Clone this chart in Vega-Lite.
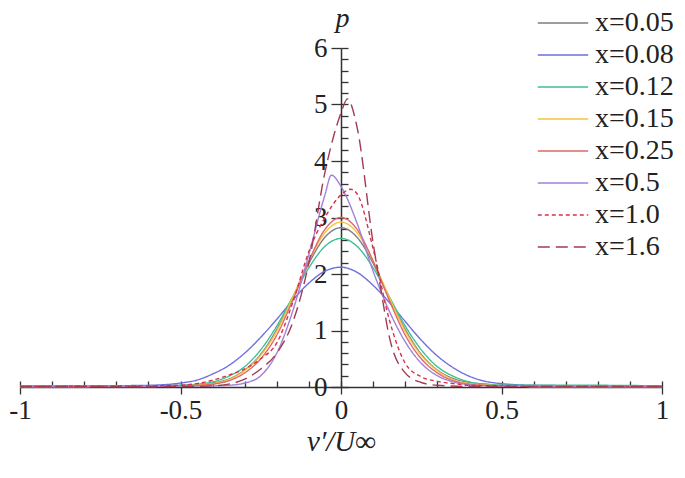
{
  "$schema": "https://vega.github.io/schema/vega-lite/v6.json",
  "width": 642,
  "height": 339,
  "autosize": {"type": "none"},
  "padding": {"left": 20, "top": 48, "right": 23, "bottom": 91},
  "background": "white",
  "config": {"view": {"stroke": null}, "font": "Liberation Serif"},
  "data": {"values": [
    {"s": "x=0.05", "v": [-1,-0.8,-0.6,-0.5,-0.45,-0.4,-0.35,-0.3,-0.25,-0.2,-0.15,-0.1,-0.05,0,0.05,0.1,0.15,0.2,0.25,0.3,0.35,0.4,0.45,0.5,0.6,0.8,1], "p": [0.01,0.02,0.02,0.03,0.04,0.07,0.14,0.3,0.58,1.02,1.59,2.19,2.65,2.82,2.65,2.19,1.59,1.02,0.58,0.3,0.15,0.08,0.05,0.03,0.02,0.01,0.01]},
    {"s": "x=0.08", "v": [-1,-0.8,-0.6,-0.5,-0.45,-0.4,-0.35,-0.3,-0.25,-0.2,-0.15,-0.1,-0.05,0,0.05,0.1,0.15,0.2,0.25,0.3,0.35,0.4,0.45,0.5,0.6,0.8,1], "p": [0.02,0.02,0.03,0.07,0.12,0.23,0.38,0.6,0.88,1.2,1.54,1.84,2.05,2.12,2.03,1.8,1.5,1.16,0.83,0.55,0.34,0.19,0.1,0.06,0.03,0.02,0.01]},
    {"s": "x=0.12", "v": [-1,-0.8,-0.6,-0.5,-0.45,-0.4,-0.35,-0.3,-0.25,-0.2,-0.15,-0.1,-0.05,0,0.05,0.1,0.15,0.2,0.25,0.3,0.35,0.4,0.45,0.5,0.6,0.8,1], "p": [0.01,0.02,0.02,0.03,0.05,0.09,0.19,0.36,0.66,1.08,1.6,2.11,2.49,2.63,2.49,2.11,1.6,1.08,0.66,0.36,0.19,0.09,0.05,0.03,0.03,0.03,0.02]},
    {"s": "x=0.15", "v": [-1,-0.8,-0.6,-0.5,-0.45,-0.4,-0.35,-0.3,-0.25,-0.2,-0.15,-0.1,-0.05,0,0.05,0.1,0.15,0.2,0.25,0.3,0.35,0.4,0.45,0.5,0.6,0.8,1], "p": [0.01,0.01,0.02,0.02,0.035,0.06,0.13,0.29,0.56,0.99,1.59,2.23,2.73,2.92,2.73,2.23,1.59,0.99,0.56,0.29,0.13,0.06,0.035,0.02,0.01,0.01,0.01]},
    {"s": "x=0.25", "v": [-1,-0.8,-0.6,-0.5,-0.45,-0.4,-0.35,-0.3,-0.25,-0.2,-0.15,-0.1,-0.05,0,0.05,0.1,0.15,0.2,0.25,0.3,0.35,0.4,0.45,0.5,0.6,0.8,1], "p": [0.01,0.01,0.02,0.02,0.03,0.05,0.11,0.25,0.5,0.92,1.54,2.23,2.79,3.0,2.79,2.23,1.54,0.92,0.5,0.25,0.11,0.05,0.03,0.02,0.01,0.01,0.01]},
    {"s": "x=0.5", "v": [-1,-0.6,-0.4,-0.35,-0.3,-0.25,-0.2,-0.15,-0.1,-0.05,-0.03,0,0.05,0.1,0.15,0.2,0.25,0.3,0.35,0.4,0.45,0.6,1], "p": [0.01,0.01,0.02,0.03,0.07,0.2,0.6,1.35,2.35,3.4,3.75,3.55,2.9,2.05,1.35,0.8,0.42,0.2,0.09,0.04,0.02,0.01,0.01]},
    {"s": "x=1.0", "v": [-1,-0.6,-0.5,-0.45,-0.4,-0.35,-0.3,-0.25,-0.2,-0.15,-0.1,-0.05,0,0.03,0.05,0.1,0.15,0.2,0.25,0.3,0.35,0.4,0.5,0.6,1], "p": [0.01,0.02,0.03,0.06,0.12,0.21,0.32,0.5,0.78,1.5,2.4,3.0,3.4,3.5,3.42,2.45,1.2,0.42,0.18,0.1,0.06,0.03,0.02,0.01,0.01]},
    {"s": "x=1.6", "v": [-1,-0.6,-0.45,-0.4,-0.35,-0.3,-0.25,-0.2,-0.15,-0.1,-0.05,0,0.02,0.05,0.1,0.125,0.15,0.2,0.25,0.3,0.4,0.6,1], "p": [0.01,0.01,0.01,0.02,0.05,0.14,0.32,0.6,1.15,2.2,3.8,4.85,5.1,4.6,2.55,1.7,0.9,0.25,0.08,0.03,0.01,0.01,0.01]}
  ]},
  "transform": [{"flatten": ["v", "p"]}],
  "layer": [
    {
      "mark": {"type": "line", "interpolate": "monotone"},
      "encoding": {
        "x": {"field": "v", "type": "quantitative", "scale": {"domain": [-1, 1], "nice": false},
          "axis": {"orient": "bottom", "values": [-1, -0.5, 0, 0.5, 1], "grid": false, "tickSize": 7, "tickWidth": 1.3, "tickColor": "#333", "domainColor": "#333", "domainWidth": 1.5, "labelFont": "Liberation Serif", "labelFontSize": 27, "labelColor": "#222", "labelPadding": 3, "labelFlush": false, "labelOverlap": false, "labelExpr": "toString(datum.value)", "title": "v′/U∞", "titleFont": "Liberation Serif", "titleFontStyle": "italic", "titleFontWeight": "normal", "titleFontSize": 29, "titleColor": "#222", "titlePadding": 4}},
        "y": {"field": "p", "type": "quantitative", "scale": {"domain": [0, 6], "nice": false},
          "axis": {"orient": "left", "offset": -321, "values": [0, 1, 2, 3, 4, 5, 6], "grid": false, "tickSize": 10, "tickWidth": 1.3, "tickColor": "#333", "domainColor": "#333", "domainWidth": 1.5, "labelFont": "Liberation Serif", "labelFontSize": 27, "labelColor": "#222", "labelPadding": 4, "labelFlush": false, "labelOverlap": false, "labelExpr": "toString(datum.value)", "title": "p", "titleAngle": 0, "titleFont": "Liberation Serif", "titleFontStyle": "italic", "titleFontWeight": "normal", "titleFontSize": 28, "titleColor": "#222", "titleX": 1, "titleY": -22, "titleAlign": "center", "titleBaseline": "alphabetic"}},
        "color": {"field": "s", "type": "nominal",
          "scale": {"domain": ["x=0.05","x=0.08","x=0.12","x=0.15","x=0.25","x=0.5","x=1.0","x=1.6"], "range": ["#7f7f7f","#6e6ee0","#3fbf94","#f5c542","#e06868","#9f82dc","#d9304a","#a23b52"]},
          "legend": {"orient": "none", "legendX": 528, "legendY": -40, "title": null, "symbolType": "M-1.8,0H1.8", "symbolSize": 784, "labelFont": "Liberation Serif", "labelFontSize": 28, "labelColor": "#222", "labelOffset": 17, "rowPadding": 3, "padding": 0}},
        "strokeDash": {"field": "s", "type": "nominal",
          "scale": {"domain": ["x=0.05","x=0.08","x=0.12","x=0.15","x=0.25","x=0.5","x=1.0","x=1.6"], "range": [[1,0],[1,0],[1,0],[1,0],[1,0],[1,0],[4,3],[12,6]]}},
        "strokeWidth": {"field": "s", "type": "nominal",
          "scale": {"domain": ["x=0.05","x=0.08","x=0.12","x=0.15","x=0.25","x=0.5","x=1.0","x=1.6"], "range": [1.4,1.4,1.4,1.4,1.4,1.4,2.2,2.2]}}
      }
    },
    {
      "mark": {"type": "line", "opacity": 0},
      "encoding": {
        "x": {"field": "v", "type": "quantitative",
          "axis": {"orient": "bottom", "values": [-1,-0.9,-0.8,-0.7,-0.6,-0.5,-0.4,-0.3,-0.2,-0.1,0,0.1,0.2,0.3,0.4,0.5,0.6,0.7,0.8,0.9,1], "grid": false, "domain": false, "labels": false, "title": null, "tickSize": -6, "tickWidth": 1.3, "tickColor": "#333"}},
        "y": {"field": "p", "type": "quantitative",
          "axis": {"orient": "left", "offset": -321, "values": [0,0.2,0.4,0.6,0.8,1,1.2,1.4,1.6,1.8,2,2.2,2.4,2.6,2.8,3,3.2,3.4,3.6,3.8,4,4.2,4.4,4.6,4.8,5,5.2,5.4,5.6,5.8,6], "grid": false, "domain": false, "labels": false, "title": null, "tickSize": -7, "tickWidth": 1.3, "tickColor": "#333"}}
      }
    }
  ],
  "resolve": {"axis": {"x": "independent", "y": "independent"}}
}
